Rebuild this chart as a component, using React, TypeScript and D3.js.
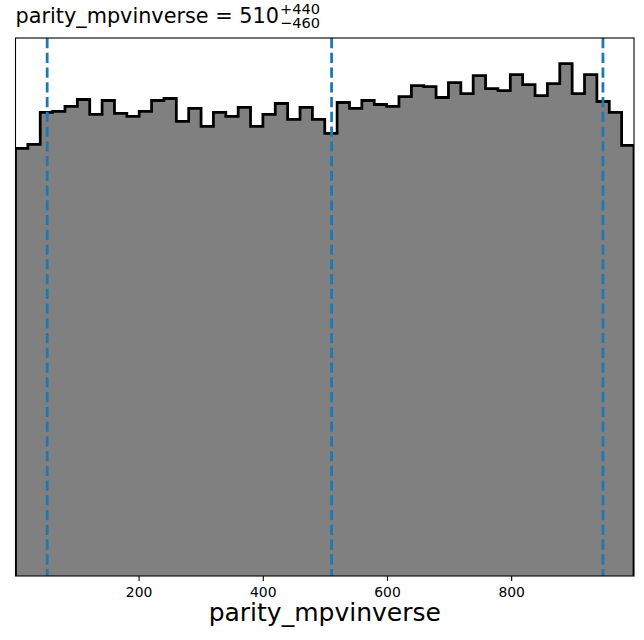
import * as d3 from "d3"
import { useEffect, useLayoutEffect, useRef, useState } from "react"

const WIDTH = 644
const HEIGHT = 640
const MARGIN = { top: 38, right: 10, bottom: 64, left: 15.5 }

const PARAM_NAME = "parity_mpvinverse"
const X_RANGE = [1, 997]
const MEDIAN_TEXT = "510"
const PLUS_TEXT = "+440"
const MINUS_TEXT = "\u2212460"
const QUANTILES = [52, 510, 947]
const TICK_VALUES = [200, 400, 600, 800]

// counts per bin, 50 equal bins over X_RANGE
const BIN_COUNTS = [
  429, 433, 465, 466, 471, 478, 463, 477, 464, 461,
  466, 477, 479, 456, 469, 451, 465, 461, 470, 451,
  463, 474, 458, 470, 458, 444, 475, 469, 477, 473,
  471, 481, 492, 491, 480, 495, 484, 502, 489, 487,
  503, 493, 482, 494, 514, 484, 503, 476, 465, 432,
]

const FONT = "DejaVu Sans, sans-serif"
const TITLE_SIZE = 20.8

export default function App() {
  const titleRef = useRef<SVGTextElement>(null)
  const [titleWidth, setTitleWidth] = useState(262)

  useEffect(() => {
    document.body.style.margin = "0"
  }, [])

  useLayoutEffect(() => {
    if (titleRef.current) {
      setTitleWidth(titleRef.current.getComputedTextLength())
    }
  }, [])

  const innerW = WIDTH - MARGIN.left - MARGIN.right
  const innerH = HEIGHT - MARGIN.top - MARGIN.bottom
  const x0 = MARGIN.left
  const x1 = MARGIN.left + innerW
  const yTop = MARGIN.top
  const yBottom = MARGIN.top + innerH

  const x = d3.scaleLinear().domain(X_RANGE).range([x0, x1])
  const maxCount = d3.max(BIN_COUNTS) ?? 1
  const y = d3
    .scaleLinear()
    .domain([0, maxCount * 1.05])
    .range([yBottom, yTop])

  const nBins = BIN_COUNTS.length
  const step = (X_RANGE[1] - X_RANGE[0]) / nBins
  const edges = d3.range(nBins + 1).map((i) => X_RANGE[0] + i * step)

  const pts: [number, number][] = [[edges[0], 0]]
  BIN_COUNTS.forEach((c, i) => {
    pts.push([edges[i], c])
    pts.push([edges[i + 1], c])
  })
  pts.push([edges[nBins], 0])

  const line = d3
    .line<[number, number]>()
    .x((d) => x(d[0]))
    .y((d) => y(d[1]))
  const outline = line(pts) ?? ""

  return (
    <svg
      width={WIDTH}
      height={HEIGHT}
      style={{ position: "absolute", left: 0, top: 0, background: "white" }}
      fontFamily={FONT}
    >
      <defs>
        <clipPath id="plot-clip">
          <rect x={x0} y={yTop} width={innerW} height={innerH} />
        </clipPath>
      </defs>

      <g clipPath="url(#plot-clip)">
        <path d={outline + "Z"} fill="#808080" stroke="none" />
        <path
          d={outline}
          fill="none"
          stroke="black"
          strokeWidth={2.78}
          strokeLinejoin="miter"
        />
        {QUANTILES.map((q) => (
          <line
            key={q}
            x1={x(q)}
            x2={x(q)}
            y1={yTop}
            y2={yBottom}
            stroke="#1f77b4"
            strokeWidth={2.78}
            strokeDasharray="10.3 4.45"
          />
        ))}
      </g>

      <rect
        x={x0}
        y={yTop}
        width={innerW}
        height={innerH}
        fill="none"
        stroke="black"
        strokeWidth={1.1}
      />

      <g>
        {TICK_VALUES.map((t) => (
          <g key={t} transform={`translate(${x(t)},${yBottom})`}>
            <line y2={4.9} stroke="black" strokeWidth={1.1} />
            <text y={21} textAnchor="middle" fontSize={13.9} fill="black">
              {t}
            </text>
          </g>
        ))}
      </g>

      <text
        x={(x0 + x1) / 2}
        y={621}
        textAnchor="middle"
        fontSize={25}
        fill="black"
      >
        {PARAM_NAME}
      </text>

      <g>
        <text ref={titleRef} x={x0} y={23} fontSize={TITLE_SIZE} fill="black">
          {`${PARAM_NAME} = ${MEDIAN_TEXT}`}
        </text>
        <text
          x={x0 + titleWidth + 1}
          y={13.5}
          fontSize={TITLE_SIZE * 0.7}
          fill="black"
        >
          {PLUS_TEXT}
        </text>
        <text
          x={x0 + titleWidth + 1}
          y={28}
          fontSize={TITLE_SIZE * 0.7}
          fill="black"
        >
          {MINUS_TEXT}
        </text>
      </g>
    </svg>
  )
}
